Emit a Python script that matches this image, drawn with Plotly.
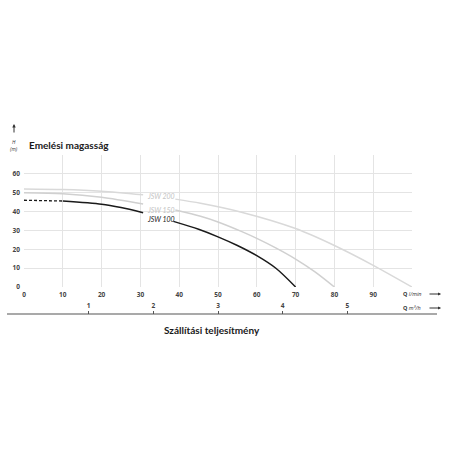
import plotly.graph_objects as go

# ---- data ----
q_ticks = [0, 10, 20, 30, 40, 50, 60, 70, 80, 90, 100]
q_tick_text = ["0", "10", "20", "30", "40", "50", "60", "70", "80", "90", ""]
h_ticks = [0, 10, 20, 30, 40, 50, 60, 70]
h_tick_text = ["0", "10", "20", "30", "40", "50", "60", ""]
m3h_ticks = [1, 2, 3, 4, 5]

# JSW 100 (dashed start, then solid with gap for label)
jsw100_dash_q = [0, 10]
jsw100_dash_h = [46, 45.6]
jsw100_q = [10, 20, 25, 30.7, None, 38.5, 45, 50, 55, 60, 65, 70]
jsw100_h = [45.6, 43.9, 42.1, 39.4, None, 34.8, 30.6, 26.6, 22.0, 16.6, 9.8, 0]

# JSW 150
jsw150_q = [0, 10, 20, 30.7, None, 39, 45.5, 50, 56, 60, 65, 70, 75, 80]
jsw150_h = [50, 49.5, 47.6, 44.0, None, 40.8, 37.5, 34.5, 29.5, 25.8, 20.6, 14.8, 8.0, 0]

# JSW 200
jsw200_q = [0, 10, 20, 30.7, None, 39, 45.5, 55.8, 70, 80, 90, 100]
jsw200_h = [52, 51.7, 50.8, 48.9, None, 46.6, 44.4, 39.8, 31.0, 22.0, 11.5, 0]

curve_labels = ["JSW 200", "JSW 150", "JSW 100"]
label_q = [35.3, 35.3, 35.3]
label_h = [48.0, 40.6, 36.2]

# ---- figure ----
fig = go.Figure()

gray200 = "#d9d9d9"
gray150 = "#d0d0d0"
black = "#1a1a1a"

fig.add_trace(go.Scatter(x=jsw200_q, y=jsw200_h, mode="lines", line=dict(color=gray200, width=1.5, shape="spline", smoothing=0.8),
                         connectgaps=False, hoverinfo="skip"))
fig.add_trace(go.Scatter(x=jsw150_q, y=jsw150_h, mode="lines", line=dict(color=gray150, width=1.5, shape="spline", smoothing=0.8),
                         connectgaps=False, hoverinfo="skip"))
fig.add_trace(go.Scatter(x=jsw100_dash_q, y=jsw100_dash_h, mode="lines",
                         line=dict(color=black, width=1.3, dash="3px,2px"), hoverinfo="skip"))
fig.add_trace(go.Scatter(x=jsw100_q, y=jsw100_h, mode="lines", line=dict(color=black, width=1.5, shape="spline", smoothing=0.8),
                         connectgaps=False, hoverinfo="skip"))
# secondary axis (m3/h) carrier trace
fig.add_trace(go.Scatter(x=[0, 6], y=[None, None], xaxis="x2", mode="lines", hoverinfo="skip"))

label_colors = ["#c4c4c4", "#c4c4c4", "#222222"]
for t, qx, hy, c in zip(curve_labels, label_q, label_h, label_colors):
    fig.add_annotation(x=qx, y=hy, text="<i>" + t + "</i>", showarrow=False,
                       font=dict(family="Lato", size=7, color=c), xanchor="center", yanchor="middle")

tickfont = dict(family="Open Sans", size=6.5, color="#444444", weight="bold")

fig.update_layout(
    width=456, height=456,
    margin=dict(l=24, r=44, t=155, b=142, autoexpand=False),
    paper_bgcolor="white", plot_bgcolor="white",
    showlegend=False,
    xaxis=dict(range=[0, 100], tickvals=q_ticks, ticktext=q_tick_text, showgrid=True,
               gridcolor="#e4e4e4", gridwidth=1, zeroline=False, showline=False, ticks="",
               tickfont=tickfont, anchor="y", ticklabelstandoff=2, automargin=False),
    yaxis=dict(range=[0, 70], tickvals=h_ticks, ticktext=h_tick_text, showgrid=True,
               gridcolor="#e4e4e4", gridwidth=1, zeroline=False, showline=False, ticks="",
               tickfont=tickfont, domain=[27 / 159, 1], ticklabelstandoff=3, automargin=False),
    xaxis2=dict(range=[0, 6], tickvals=m3h_ticks, ticktext=[str(v) for v in m3h_ticks],
                anchor="free", position=0, side="top", overlaying="x",
                showgrid=False, zeroline=False, showline=False, ticks="outside", ticklen=3,
                tickcolor="#555555", tickwidth=1, tickfont=tickfont, ticklabelstandoff=0,
                automargin=False),
)

# bottom axis line (m3/h)
fig.add_shape(type="line", xref="paper", yref="paper", x0=-17 / 388, x1=413 / 388, y0=0, y1=0,
              line=dict(color="#555555", width=1.2))

def px_x(p):
    return (p - 24) / 388

def px_y(p):
    return (314 - p) / 159

# title and axis captions
fig.add_annotation(xref="paper", yref="paper", x=px_x(27), y=px_y(145), text="<b>Emelési magasság</b>",
                   showarrow=False, xanchor="left", yanchor="middle",
                   font=dict(family="Lato", size=10, color="#1a1a1a"))
fig.add_annotation(xref="paper", yref="paper", x=px_x(14), y=px_y(145), text="<i>H</i><br><i>(m)</i>",
                   showarrow=False, xanchor="center", yanchor="middle",
                   font=dict(family="Open Sans", size=5, color="#333333"))
fig.add_annotation(xref="paper", yref="paper", x=px_x(14), y=px_y(124), ax=0, ay=10, text="",
                   showarrow=True, arrowhead=2, arrowsize=0.7, arrowwidth=1, arrowcolor="#333333")
fig.add_annotation(xref="paper", yref="paper", x=px_x(212), y=px_y(330), text="<b>Szállítási teljesítmény</b>",
                   showarrow=False, xanchor="center", yanchor="middle",
                   font=dict(family="Lato", size=10, color="#1a1a1a"))
fig.add_annotation(xref="paper", yref="paper", x=px_x(401), y=px_y(294), text="<b>Q</b> <i>l/min</i>",
                   showarrow=False, xanchor="left", yanchor="middle",
                   font=dict(family="Open Sans", size=5.5, color="#333333"))
fig.add_annotation(xref="paper", yref="paper", x=px_x(401), y=px_y(308), text="<b>Q</b> <i>m³/h</i>",
                   showarrow=False, xanchor="left", yanchor="middle",
                   font=dict(family="Open Sans", size=5.5, color="#333333"))
for py in (294, 308):
    fig.add_annotation(xref="paper", yref="paper", x=px_x(441), y=px_y(py), ax=-13, ay=0, text="",
                       showarrow=True, arrowhead=2, arrowsize=0.6, arrowwidth=1, arrowcolor="#333333")

fig.write_html("out.html", config={"displayModeBar": False},
               post_script="document.body.style.margin='0px';")
